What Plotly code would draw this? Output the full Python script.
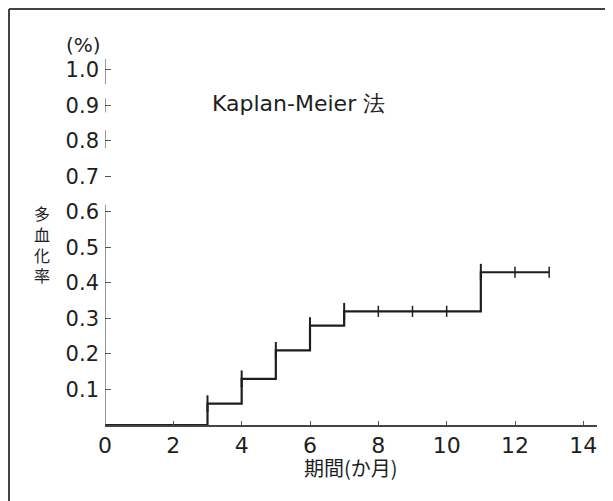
import plotly.graph_objects as go

# Data
step_months = [0, 3, 4, 5, 6, 7, 11, 13]
step_rates = [0.0, 0.06, 0.13, 0.21, 0.28, 0.32, 0.43, 0.43]
jump_months = [3, 4, 5, 6, 7, 11]
jump_rates = [0.06, 0.13, 0.21, 0.28, 0.32, 0.43]
censor_months = [8, 9, 10, 12, 13]
censor_rates = [0.32, 0.32, 0.32, 0.43, 0.43]
x_ticks = [0, 2, 4, 6, 8, 10, 12, 14]
y_ticks = [0.1, 0.2, 0.3, 0.4, 0.5, 0.6, 0.7, 0.8, 0.9, 1.0]
y_tick_text = ["0.1", "0.2", "0.3", "0.4", "0.5", "0.6", "0.7", "0.8", "0.9", "1.0"]

INK = "#1e1e1e"
FONT = "DejaVu Sans, sans-serif"
CJK = "Noto Sans CJK JP, sans-serif"

fig = go.Figure()
fig.add_trace(go.Scatter(x=step_months, y=step_rates, mode="lines",
                         line=dict(shape="hv", color=INK, width=2.2),
                         showlegend=False, hoverinfo="skip"))
fig.add_trace(go.Scatter(x=jump_months, y=jump_rates, mode="markers",
                         marker=dict(symbol="line-ns", size=12,
                                     line=dict(color=INK, width=2)),
                         showlegend=False, hoverinfo="skip"))
fig.add_trace(go.Scatter(x=censor_months, y=censor_rates, mode="markers",
                         marker=dict(symbol="line-ns", size=8,
                                     line=dict(color=INK, width=1.5)),
                         showlegend=False, hoverinfo="skip"))

fig.update_xaxes(range=[0, 14.4], tickvals=x_ticks, ticks="inside", ticklen=4,
                 tickcolor="#555", tickwidth=1, showgrid=False, zeroline=False,
                 showline=True, linecolor="#444", linewidth=1.5,
                 tickfont=dict(family=FONT, size=22, color=INK))
fig.update_yaxes(range=[0, 1.05], tickvals=y_ticks, ticktext=y_tick_text,
                 ticks="inside", ticklen=6, tickcolor="#555", tickwidth=1,
                 ticklabelstandoff=5,
                 showgrid=False, zeroline=False, showline=False,
                 tickfont=dict(family=FONT, size=21, color=INK))

# y axis line (broken as in the scan)
for y0, y1 in [(0, 0.62), (0.78, 0.83), (0.88, 0.92), (0.96, 1.03)]:
    fig.add_shape(type="line", xref="x", yref="y", x0=0, x1=0, y0=y0, y1=y1,
                  line=dict(color="#555", width=1.2))

# window-pixel -> paper conversion (plot area at 105..597 x, 52..425 y in window)
def px_x(p):
    return (p - 105) / 492.0

def px_y(p):
    return (425 - p) / 373.0

fig.add_shape(type="line", xref="paper", yref="paper", x0=px_x(9), x1=px_x(9),
              y0=px_y(9), y1=px_y(501), line=dict(color="#444", width=2))
fig.add_shape(type="line", xref="paper", yref="paper", x0=px_x(9), x1=px_x(613),
              y0=px_y(9), y1=px_y(9), line=dict(color="#444", width=2))
fig.add_shape(type="line", xref="paper", yref="paper", x0=px_x(611), x1=px_x(611),
              y0=px_y(9), y1=px_y(501), line=dict(color="#666", width=1.5))

def note(text, px, py, font, size):
    fig.add_annotation(x=px_x(px), y=px_y(py), xref="paper", yref="paper",
                       xanchor="center", yanchor="middle", text=text,
                       showarrow=False, font=dict(family=font, size=size, color=INK))

note("Kaplan-Meier 法", 298, 103, FONT, 22)
note("(%)", 83, 45, FONT, 20)
note("多<br>血<br>化<br>率", 42, 244, CJK, 16)
note("期間(か月)", 351, 467, CJK, 20)

# figure is placed at an 8px offset inside the page body
fig.update_layout(width=613, height=501,
                  margin=dict(l=97, r=24, t=44, b=84),
                  paper_bgcolor="white", plot_bgcolor="white")

fig.write_html("out.html")
